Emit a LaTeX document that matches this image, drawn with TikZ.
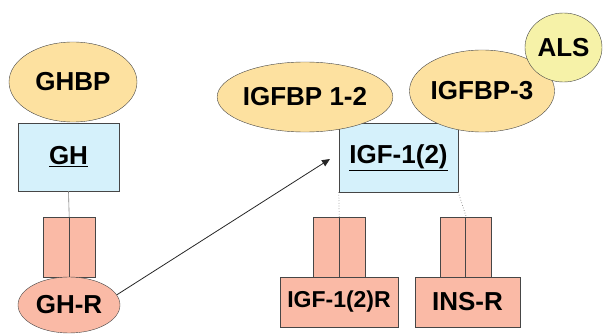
\documentclass[tikz,border=0pt]{standalone}
\usepackage{fontspec}
\setmainfont{Liberation Sans}
\usetikzlibrary{shapes.geometric,arrows.meta}
\definecolor{bporange}{RGB}{253,225,160}
\definecolor{alsyellow}{RGB}{246,242,168}
\definecolor{hblue}{RGB}{213,241,251}
\definecolor{salmon}{RGB}{250,186,166}
\definecolor{edge}{RGB}{70,70,70}
\tikzset{
  txt/.style={font=\bfseries\fontsize{26}{26}\selectfont},
  bp/.style={ellipse, draw=edge, fill=bporange, inner sep=0pt, txt},
  als/.style={ellipse, draw=edge, fill=alsyellow, inner sep=0pt, txt},
  hormone/.style={rectangle, draw=edge, fill=hblue, inner sep=0pt, txt},
  half/.style={rectangle, draw=edge, fill=salmon, inner sep=0pt, minimum width=26pt, minimum height=60pt},
  rbase/.style={rectangle, draw=edge, fill=salmon, inner sep=0pt, minimum height=50pt, txt},
  rell/.style={ellipse, draw=edge, fill=salmon, inner sep=0pt, txt},
  link/.style={draw=gray, line width=0.6pt},
  dlink/.style={draw=gray, line width=0.7pt, dotted},
  arr/.style={draw=black!85, line width=0.8pt, -{Triangle[length=8pt,width=7pt]}}
}
\begin{document}
\begin{tikzpicture}[x=1pt,y=-1pt]
\useasboundingbox (0,0) rectangle (603,334);
% left: GH system
\node[hormone, minimum width=101pt, minimum height=68pt] (gh) at (68.5,157) {\underline{GH}};
\node[bp, minimum width=128pt, minimum height=80pt] (ghbp) at (73,82) {GHBP};
\node[half] (ghrl) at (56,247) {};
\node[half] (ghrr) at (82,247) {};
\node[rell, minimum width=102pt, minimum height=56pt] (ghr) at (69,305) {GH-R};
\coordinate (ghbot) at (gh.south);
\draw[link] (ghbot) -- (ghrl.north east);
% right: IGF system
\node[hormone, minimum width=119pt, minimum height=69pt] (igf) at (398.5,157.5) {\underline{IGF-1(2)}};
\node[bp, minimum width=154pt, minimum height=70pt] (bp12) at (305,97) {IGFBP 1-2};
\node[bp, minimum width=136pt, minimum height=82pt] (bp3) at (482,91) {IGFBP-3};
\node[als, minimum width=77pt, minimum height=69pt] (als) at (563.5,47.5) {ALS};
% receptors
\node[half] (r1l) at (326,247) {};
\node[half] (r1r) at (352,247) {};
\node[rbase, minimum width=118pt, font=\bfseries\fontsize{23}{23}\selectfont] (r1) at (339,302) {IGF-1(2)R};
\node[half] (r2l) at (453,247) {};
\node[half] (r2r) at (478,247) {};
\node[rbase, minimum width=105pt] (r2) at (467.5,302) {INS-R};
\draw[dlink] (igf.south west) -- (r1l.north east);
\draw[dlink] (igf.south east) -- (r2l.north east);
% arrow
\coordinate (tip) at (330,159);
\draw[arr] (ghr.12) -- (tip);
\end{tikzpicture}
\end{document}
